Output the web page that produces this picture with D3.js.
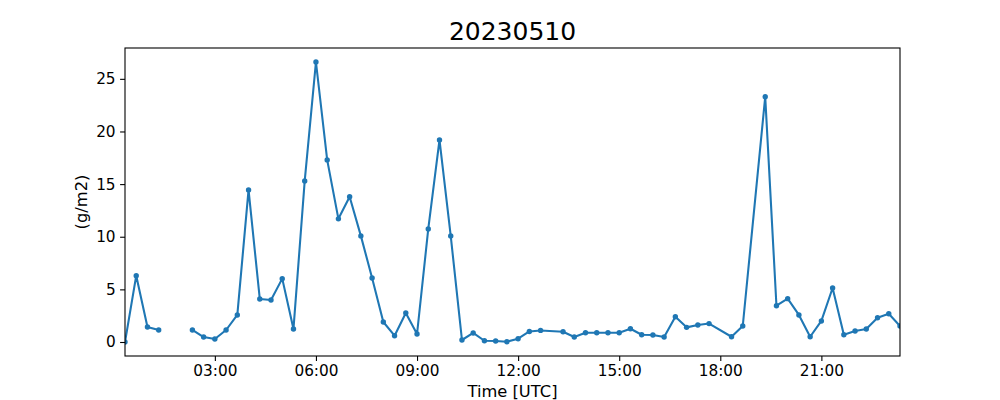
<!DOCTYPE html>
<html>
<head>
<meta charset="utf-8">
<script src="https://cdn.jsdelivr.net/npm/d3@7"></script>
<style>
  body { margin: 0; background: #fff; }
  svg text { font-family: "DejaVu Sans", sans-serif; fill: #000; }
</style>
</head>
<body>
<div class="container"></div>
<script>
var w = 1000;
var h = 400;

var title = "20230510";
var xLabel = "Time [UTC]";
var yLabel = "(g/m2)";

// 20-min samples, null = missing (line breaks there)
var times = ["00:20","00:40","01:00","01:20","01:40","02:00","02:20","02:40","03:00","03:20",
  "03:40","04:00","04:20","04:40","05:00","05:20","05:40","06:00","06:20","06:40",
  "07:00","07:20","07:40","08:00","08:20","08:40","09:00","09:20","09:40","10:00",
  "10:20","10:40","11:00","11:20","11:40","12:00","12:20","12:40","13:20","13:40",
  "14:00","14:20","14:40","15:00","15:20","15:40","16:00","16:20","16:40","17:00",
  "17:20","17:40","18:20","18:40","19:20","19:40","20:00","20:20","20:40","21:00",
  "21:20","21:40","22:00","22:20","22:40","23:00","23:20"];
var values = [0.0, 6.3, 1.42, 1.14, null, null, 1.14, 0.47, 0.28, 1.14,
  2.57, 14.45, 4.09, 3.99, 6.02, 1.24, 15.3, 26.6, 17.3, 11.7,
  13.8, 10.08, 6.08, 1.9, 0.6, 2.76, 0.76, 10.74, 19.2, 10.08,
  0.19, 0.86, 0.12, 0.09, 0.03, 0.31, 1.0, 1.1, 0.98, 0.48,
  0.88, 0.88, 0.88, 0.88, 1.26, 0.69, 0.66, 0.47, 2.4, 1.39,
  1.62, 1.75, 0.5, 1.52, 23.3, 3.45, 4.12, 2.57, 0.5, 2.0,
  5.13, 0.69, 1.05, 1.24, 2.31, 2.69, 1.52];
var yTicks = [0, 5, 10, 15, 20, 25];

var parse = d3.utcParse("%Y-%m-%d %H:%M");
var data = times.map((t, i) => ({ t: parse("2023-05-10 " + t), v: values[i] }));

var mLeft = 125, mRight = 900, mTop = 48, mBottom = 356;

var canvas = d3.select(".container").append("svg")
  .attr("width", w)
  .attr("height", h);

var xScale = d3.scaleUtc().domain(d3.extent(data, (d) => d.t)).range([mLeft, mRight]);
var vmax = d3.max(values), vmin = d3.min(values);
var pad = (vmax - vmin) * 0.05;
var yScale = d3.scaleLinear().domain([vmin - pad, vmax + pad]).range([mBottom, mTop]);

canvas.append("defs").append("clipPath").attr("id", "clip")
  .append("rect").attr("x", mLeft).attr("y", mTop)
  .attr("width", mRight - mLeft).attr("height", mBottom - mTop);

var color = "#1f77b4";
var line = d3.line()
  .defined((d) => d.v != null)
  .x((d) => xScale(d.t))
  .y((d) => yScale(d.v));

var plot = canvas.append("g").attr("clip-path", "url(#clip)");
plot.append("path")
  .datum(data)
  .attr("fill", "none")
  .attr("stroke", color)
  .attr("stroke-width", 2.08)
  .attr("stroke-linejoin", "round")
  .attr("stroke-linecap", "square")
  .attr("d", line);

plot.selectAll("circle").data(data.filter((d) => d.v != null)).enter().append("circle")
  .attr("cx", (d) => xScale(d.t))
  .attr("cy", (d) => yScale(d.v))
  .attr("r", 2.7)
  .attr("fill", color);

// axes
var xAxis = d3.axisBottom(xScale)
  .ticks(d3.utcHour.every(3))
  .tickFormat(d3.utcFormat("%H:%M"))
  .tickSizeInner(4.9).tickSizeOuter(0).tickPadding(4.5);
var gx = canvas.append("g").attr("transform", "translate(0," + mBottom + ")").call(xAxis);

var yAxis = d3.axisLeft(yScale).tickValues(yTicks)
  .tickSizeInner(4.9).tickSizeOuter(0).tickPadding(4.5);
var gy = canvas.append("g").attr("transform", "translate(" + mLeft + ",0)").call(yAxis);

[gx, gy].forEach((g) => {
  g.select(".domain").remove();
  g.selectAll(".tick line").attr("stroke", "#000").attr("stroke-width", 1.1);
  g.selectAll(".tick text").attr("font-size", "15.3px").attr("fill", "#000")
    .style("font-family", "'DejaVu Sans', sans-serif");
});

// frame
canvas.append("rect")
  .attr("x", mLeft).attr("y", mTop)
  .attr("width", mRight - mLeft).attr("height", mBottom - mTop)
  .attr("fill", "none").attr("stroke", "#000").attr("stroke-width", 1.1);

canvas.append("text")
  .attr("x", (mLeft + mRight) / 2).attr("y", 39.5)
  .attr("text-anchor", "middle")
  .attr("font-size", "25px")
  .text(title);

canvas.append("text")
  .attr("x", (mLeft + mRight) / 2).attr("y", 396.5)
  .attr("text-anchor", "middle")
  .attr("font-size", "16.3px")
  .text(xLabel);

canvas.append("text")
  .attr("transform", "translate(87," + ((mTop + mBottom) / 2) + ") rotate(-90)")
  .attr("text-anchor", "middle")
  .attr("font-size", "16.3px")
  .text(yLabel);
</script>
</body>
</html>
